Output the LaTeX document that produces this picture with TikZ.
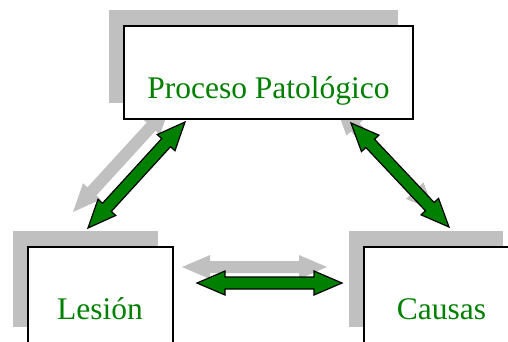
\documentclass[tikz,border=0pt]{standalone}
\usepackage{fontspec}
\setmainfont{Liberation Serif}
\usetikzlibrary{calc,shadows}
\definecolor{leafgreen}{RGB}{0,128,0}
\definecolor{shadowgray}{RGB}{192,192,192}

% arrow geometry
\newcommand\arrHeadLen{28pt}
\newcommand\arrHeadHalf{12pt}
\newcommand\arrShaftHalf{6pt}

% double-headed block arrow between two named points: #1 style, #2 from, #3 to
\newcommand\blockarrow[3]{%
  \path[#1] (#2)
    -- ($(#2)!\arrHeadLen!(#3)!\arrHeadHalf!90:(#3)$)
    -- ($(#2)!\arrHeadLen!(#3)!\arrShaftHalf!90:(#3)$)
    -- ($(#3)!\arrHeadLen!(#2)!\arrShaftHalf!-90:(#2)$)
    -- ($(#3)!\arrHeadLen!(#2)!\arrHeadHalf!-90:(#2)$)
    -- (#3)
    -- ($(#3)!\arrHeadLen!(#2)!\arrHeadHalf!90:(#2)$)
    -- ($(#3)!\arrHeadLen!(#2)!\arrShaftHalf!90:(#2)$)
    -- ($(#2)!\arrHeadLen!(#3)!\arrShaftHalf!-90:(#3)$)
    -- ($(#2)!\arrHeadLen!(#3)!\arrHeadHalf!-90:(#3)$)
    -- cycle;%
}

\begin{document}
\begin{tikzpicture}[x=1pt,y=-1pt,
  box/.style={draw=black, line width=1.6pt, fill=white, inner sep=0pt,
    general shadow={fill=shadowgray, shadow xshift=-15pt, shadow yshift=16pt}},
  boxtext/.style={text=leafgreen, font=\fontsize{31.5}{36}\selectfont, inner sep=0pt, anchor=base},
  greenarrow/.style={fill=leafgreen, draw=black, line width=1.2pt, line join=miter},
  grayarrow/.style={fill=shadowgray}]
\useasboundingbox (0,0) rectangle (508,341);

% arrow end points
\coordinate (lu) at (185,122);
\coordinate (ll) at (88,228);
\coordinate (ru) at (351,123);
\coordinate (rl) at (449,227);
\coordinate (hl) at (197,283);
\coordinate (hr) at (342,283);

% arrow shadows
\begin{scope}[transform canvas={shift={(-15,-16)}}]
  \blockarrow{grayarrow}{lu}{ll}
  \blockarrow{grayarrow}{ru}{rl}
  \blockarrow{grayarrow}{hl}{hr}
\end{scope}

% boxes
\node[box, minimum width=289pt, minimum height=93pt] (proc) at (268.5,72.5) {};
\node[box, minimum width=145pt, minimum height=96pt] (les) at (100.5,295) {};
\node[box, minimum width=154pt, minimum height=96pt] (caus) at (441,295) {};

\node[boxtext] (proctext) at (268.5,98) {Proceso Patológico};
\node[boxtext] (lestext) at (100,319) {Lesión};
\node[boxtext] (caustext) at (441.5,319) {Causas};

% arrows
\blockarrow{greenarrow}{lu}{ll}
\blockarrow{greenarrow}{ru}{rl}
\blockarrow{greenarrow}{hl}{hr}
\end{tikzpicture}
\end{document}
